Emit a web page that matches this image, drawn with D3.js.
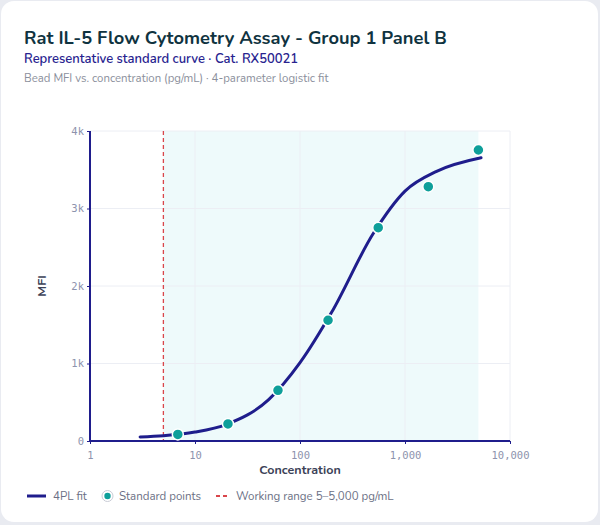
<!DOCTYPE html>
<html>
  <head>
    <meta charset="UTF-8">
    <title>Rat IL-5 Flow Cytometry Assay - Group 1 Panel B</title>
    <script src="https://cdnjs.cloudflare.com/ajax/libs/d3/7.8.5/d3.min.js"></script>
  </head>
  <style type="text/css">
    body {
      margin: 0px;
      padding: 0px;
      background: #e9ebf1;
    }
    svg {
      display: block;
      font-family: Nunito, Lato, "Noto Sans", sans-serif;
    }
    .tick-label {
      font-family: "DejaVu Sans Mono", monospace;
      font-size: 10.5px;
      fill: #8d93ad;
    }
  </style>
  <body>
    <div id="chart"></div>
    <script>
      // standard points (3-fold dilution series)
      const stdConc = [6.86, 20.6, 61.7, 185, 556, 1667, 5000];
      const stdMfi = [85, 220, 654, 1558, 2752, 3282, 3755];

      // samples of the 4PL fit curve
      const fitConc = [3, 5, 10, 20, 50, 100, 200, 500, 1000, 2000, 5300];
      const fitMfi = [52, 68, 115, 215, 530, 1010, 1660, 2680, 3225, 3480, 3655];

      const xTicks = [1, 10, 100, 1000, 10000];
      const yTicks = [0, 1000, 2000, 3000, 4000];
      const workingRange = [5, 5000];

      const width = 600, height = 525;
      const margin = { top: 131, right: 90, bottom: 84, left: 90 };

      const svg = d3.select("#chart").append("svg")
        .attr("width", width)
        .attr("height", height);

      // card
      svg.append("rect")
        .attr("x", 1).attr("y", 1)
        .attr("width", 597).attr("height", 521)
        .attr("rx", 13)
        .attr("fill", "#ffffff");

      // titles
      svg.append("text")
        .attr("x", 24).attr("y", 44)
        .attr("font-size", 18.3).attr("font-weight", 700)
        .attr("fill", "#0f3340")
        .text("Rat IL-5 Flow Cytometry Assay - Group 1 Panel B");
      svg.append("text")
        .attr("x", 24).attr("y", 63)
        .attr("font-size", 13).attr("font-weight", 600)
        .attr("fill", "#28238f")
        .text("Representative standard curve \u00b7 Cat. RX50021");
      svg.append("text")
        .attr("x", 24).attr("y", 82)
        .attr("font-size", 11.4)
        .attr("fill", "#8b8f9c")
        .text("Bead MFI vs. concentration (pg/mL) \u00b7 4-parameter logistic fit");

      const x = d3.scaleLog()
        .domain([1, 10000])
        .range([margin.left, width - margin.right]);
      const y = d3.scaleLinear()
        .domain([0, 4000])
        .range([height - margin.bottom, margin.top]);

      // working range shading
      svg.append("rect")
        .attr("x", x(workingRange[0]))
        .attr("y", y(4000))
        .attr("width", x(workingRange[1]) - x(workingRange[0]))
        .attr("height", y(0) - y(4000))
        .attr("fill", "#eefafb");

      // grid
      svg.append("g").selectAll("line")
        .data(xTicks.slice(1)).enter().append("line")
        .attr("x1", d => x(d)).attr("x2", d => x(d))
        .attr("y1", y(4000)).attr("y2", y(0))
        .attr("stroke", "#eceef4").attr("stroke-width", 1);
      svg.append("g").selectAll("line")
        .data(yTicks.slice(1)).enter().append("line")
        .attr("x1", x(1)).attr("x2", x(10000))
        .attr("y1", d => y(d)).attr("y2", d => y(d))
        .attr("stroke", "#eceef4").attr("stroke-width", 1);

      // lower limit of working range
      svg.append("line")
        .attr("x1", x(workingRange[0])).attr("x2", x(workingRange[0]))
        .attr("y1", y(4000)).attr("y2", y(0))
        .attr("stroke", "#d9464b").attr("stroke-width", 1.3)
        .attr("stroke-dasharray", "4,3");

      // axes
      const xAxis = d3.axisBottom(x)
        .tickValues(xTicks)
        .tickSize(3)
        .tickFormat(d3.format(","));
      const gx = svg.append("g")
        .attr("transform", `translate(0,${y(0)})`)
        .call(xAxis);
      gx.select(".domain").attr("stroke", "#1f1d8c").attr("stroke-width", 2).attr("d", `M${x(1)},0H${x(10000)}`);
      gx.selectAll(".tick line").attr("stroke", "#1f1d8c");
      gx.selectAll(".tick text").attr("class", "tick-label").attr("dy", "1.1em");

      const yAxis = d3.axisLeft(y)
        .tickValues(yTicks)
        .tickSize(3)
        .tickFormat(d => d === 0 ? "0" : (d / 1000) + "k");
      const gy = svg.append("g")
        .attr("transform", `translate(${x(1)},0)`)
        .call(yAxis);
      gy.select(".domain").attr("stroke", "#1f1d8c").attr("stroke-width", 2).attr("d", `M0,${y(4000)}V${y(0)}`);
      gy.selectAll(".tick line").attr("stroke", "#1f1d8c");
      gy.selectAll(".tick text").attr("class", "tick-label").attr("x", -6);

      // axis titles
      svg.append("text")
        .attr("x", (x(1) + x(10000)) / 2).attr("y", 474)
        .attr("text-anchor", "middle")
        .attr("font-size", 12.5).attr("font-weight", 700)
        .attr("fill", "#3c4257")
        .text("Concentration");
      svg.append("text")
        .attr("transform", `translate(46,${(y(0) + y(4000)) / 2}) rotate(-90)`)
        .attr("text-anchor", "middle")
        .attr("font-size", 12.5).attr("font-weight", 700)
        .attr("fill", "#3c4257")
        .text("MFI");

      // 4PL fit curve
      const fit = fitConc.map((c, i) => ({ c: c, m: fitMfi[i] }));
      svg.append("path")
        .datum(fit)
        .attr("fill", "none")
        .attr("stroke", "#1f1d8c")
        .attr("stroke-width", 3)
        .attr("stroke-linecap", "round")
        .attr("d", d3.line().x(d => x(d.c)).y(d => y(d.m)).curve(d3.curveMonotoneX));

      // standard points
      const pts = stdConc.map((c, i) => ({ c: c, m: stdMfi[i] }));
      svg.append("g").selectAll("circle")
        .data(pts).enter().append("circle")
        .attr("cx", d => x(d.c))
        .attr("cy", d => y(d.m))
        .attr("r", 5.5)
        .attr("fill", "#0e9f9a")
        .attr("stroke", "#ffffff")
        .attr("stroke-width", 1.5);

      // legend
      const legend = svg.append("g").attr("transform", "translate(0,496)");
      legend.append("line")
        .attr("x1", 27).attr("x2", 46)
        .attr("stroke", "#1f1d8c").attr("stroke-width", 3);
      legend.append("text")
        .attr("x", 53).attr("y", 4)
        .attr("font-size", 11.5).attr("fill", "#6b7085")
        .text("4PL fit");
      legend.append("circle")
        .attr("cx", 107.5).attr("cy", 0).attr("r", 5.5)
        .attr("fill", "#ffffff").attr("stroke", "#c9ccd6").attr("stroke-width", 1);
      legend.append("circle")
        .attr("cx", 107.5).attr("cy", 0).attr("r", 3.2)
        .attr("fill", "#0e9f9a");
      legend.append("text")
        .attr("x", 119).attr("y", 4)
        .attr("font-size", 11.5).attr("fill", "#6b7085")
        .text("Standard points");
      legend.append("line")
        .attr("x1", 216).attr("x2", 230)
        .attr("stroke", "#d9464b").attr("stroke-width", 2)
        .attr("stroke-dasharray", "4,3");
      legend.append("text")
        .attr("x", 236).attr("y", 4)
        .attr("font-size", 11.5).attr("fill", "#6b7085")
        .text("Working range 5\u20135,000 pg/mL");
    </script>
  </body>
</html>
